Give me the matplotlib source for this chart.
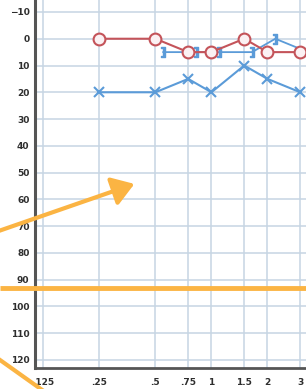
import numpy as np
import matplotlib
matplotlib.use("Agg")
import matplotlib.pyplot as plt
from matplotlib.patches import FancyArrowPatch

# audiogram values (kHz / dB HL)
freqs = [0.125, 0.25, 0.5, 0.75, 1, 1.5, 2, 3]
freq_labels = [".125", ".25", ".5", ".75", "1", "1.5", "2", "3"]
db_ticks = list(range(-10, 121, 10))

right_air_f = [0.25, 0.5, 0.75, 1, 1.5, 2, 3]
right_air_db = [0, 0, 5, 5, 0, 5, 5]

left_air_f = [0.25, 0.5, 0.75, 1, 1.5, 2, 3]
left_air_db = [20, 20, 15, 20, 10, 15, 20]

left_bone_f = [0.5, 0.75, 1, 1.5, 2, 3]
left_bone_db = [5, 5, 5, 5, 0, 5]

red = "#c4545a"
blue = "#5b9bd8"
orange = "#fbb443"
grid_c = "#c6d5e3"

fig = plt.figure(figsize=(3.06, 3.89), dpi=100)
W, H = 306, 389
# axes extends past the top and right edges (the picture is a crop)
x0, x1 = 35, 400
y_bot, y_top = 368, -14.8
ax = fig.add_axes([x0 / W, (H - y_bot) / H, (x1 - x0) / W, (y_bot - y_top) / H])

ax.set_xscale("log")
ax.set_xlim(0.1128, 10.3)
ax.set_ylim(123, -20)

ax.set_xticks(freqs)
ax.set_xticklabels(freq_labels)
ax.minorticks_off()
ax.set_yticks(db_ticks)
ax.tick_params(length=0, labelsize=6.5, colors="#2e2e2e", pad=4)
for lab in ax.get_xticklabels() + ax.get_yticklabels():
    lab.set_fontweight("bold")
ax.tick_params(axis="x", pad=7)

ax.grid(True, color=grid_c, lw=1.1)
for s in ["top", "right"]:
    ax.spines[s].set_visible(False)
ax.spines["left"].set_color("#555555")
ax.spines["left"].set_linewidth(2.2)
ax.spines["bottom"].set_color("#555555")
ax.spines["bottom"].set_linewidth(2.0)

# left bone (masked) symbols, offset to the right of each frequency
bone_x = np.array(left_bone_f) * 2 ** 0.14
ax.plot(bone_x, left_bone_db, color=blue, lw=1.3, zorder=3)
ax.plot(bone_x, left_bone_db, ls="none", marker=r"$\mathbf{]}$", ms=7,
        color=blue, zorder=4)

ax.plot(left_air_f, left_air_db, color=blue, lw=1.5, marker="x", ms=7, mew=1.5, zorder=5)
ax.plot(right_air_f, right_air_db, color=red, lw=1.5, marker="o", ms=8.5,
        mfc="#fbf1f3", mec=red, mew=1.5, zorder=6)

# orange annotation marks on top of the crop
ov = fig.add_axes([0, 0, 1, 1])
ov.set_xlim(0, W)
ov.set_ylim(H, 0)
ov.axis("off")
ov.plot([0, W], [288, 288], color=orange, lw=3.5, solid_capstyle="butt")
ov.plot([0, 45], [360, 392], color=orange, lw=3)
ov.add_patch(FancyArrowPatch((-10, 234), (137, 183), arrowstyle="-|>,head_length=6,head_width=4",
                             color=orange, lw=3, mutation_scale=2.2))

fig.savefig("out.png", dpi=100)
